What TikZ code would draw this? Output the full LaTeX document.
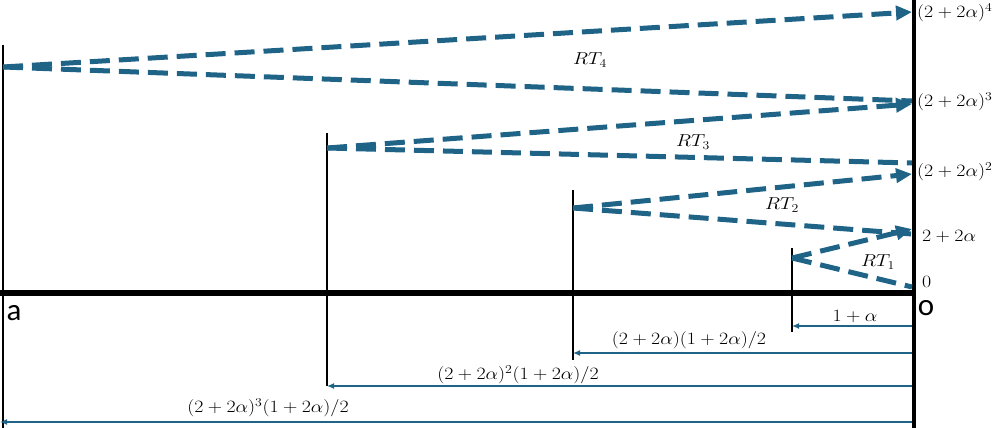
\documentclass[tikz,border=0pt]{standalone}
\usepackage{fontspec}
\usepackage{graphicx}
\usetikzlibrary{arrows.meta}
\newfontfamily\lblfont{Carlito}
\definecolor{rtblue}{RGB}{31,100,135}
\newcommand{\wideml}[1]{\scalebox{1.15}[1]{#1}}
\begin{document}
\begin{tikzpicture}[x=1pt,y=-1pt,
  axisline/.style={line width=6pt},
  rightline/.style={line width=4pt},
  tick/.style={line width=2.5pt},
  rtdash/.style={rtblue,line width=5pt,dash pattern=on 20pt off 9pt},
  rtarrow/.style={rtdash,-{Triangle[length=16pt,width=14pt]}},
  dimarrow/.style={rtblue,line width=1.3pt,-{Latex[length=7pt,width=6pt]}},
  mlbl/.style={inner sep=1pt,font=\fontsize{17}{19}\selectfont},
  side/.style={inner sep=0pt,font=\lblfont\fontsize{31}{33}\selectfont}]
\useasboundingbox (0,0) rectangle (996,428);
% coordinates
\coordinate (Otop) at (914,0);
\coordinate (Obot) at (914,428);
\coordinate (Aend) at (0,293);
\coordinate (Oend) at (914,293);
\coordinate (s4) at (3,67);   \coordinate (b4) at (3,428);
\coordinate (s3) at (327,148); \coordinate (b3) at (327,386);
\coordinate (s2) at (573,208); \coordinate (b2) at (573,360);
\coordinate (s1) at (792,258); \coordinate (b1) at (792,332);
\coordinate (t4) at (3,45);
\coordinate (t3) at (327,133);
\coordinate (t2) at (573,190);
\coordinate (t1) at (792,248);
\coordinate (e4u) at (912,12);  \coordinate (e4d) at (912,101);
\coordinate (e3u) at (912,104); \coordinate (e3d) at (912,163);
\coordinate (e2u) at (912,174); \coordinate (e2d) at (912,234);
\coordinate (e1u) at (912,229); \coordinate (e1d) at (912,287);
\coordinate (d1) at (912,326); \coordinate (f1) at (792,326);
\coordinate (d2) at (912,353); \coordinate (f2) at (573,353);
\coordinate (d3) at (912,386); \coordinate (f3) at (327,386);
\coordinate (d4) at (912,422); \coordinate (f4) at (0,422);
% main lines
\draw[rightline] (Otop) -- (Obot);
\draw[axisline] (Aend) -- (Oend);
\draw[tick] (t4) -- (b4);
\draw[tick] (t3) -- (b3);
\draw[tick] (t2) -- (b2);
\draw[tick] (t1) -- (b1);
% round trips
\draw[rtarrow] (s4) -- (e4u);
\draw[rtdash] (s4) -- (e4d);
\draw[rtarrow] (s3) -- (e3u);
\draw[rtdash] (s3) -- (e3d);
\draw[rtarrow] (s2) -- (e2u);
\draw[rtdash] (s2) -- (e2d);
\draw[rtarrow] (s1) -- (e1u);
\draw[rtdash] (s1) -- (e1d);
% dimension arrows
\draw[dimarrow] (d1) -- (f1);
\draw[dimarrow] (d2) -- (f2);
\draw[dimarrow] (d3) -- (f3);
\draw[dimarrow] (d4) -- (f4);
% labels
\node[mlbl,anchor=west] (l4) at (916,13) {\wideml{$(2+2\alpha)^4$}};
\node[mlbl,anchor=west] (l3) at (916,102) {\wideml{$(2+2\alpha)^3$}};
\node[mlbl,anchor=west] (l2) at (916,172) {\wideml{$(2+2\alpha)^2$}};
\node[mlbl,anchor=west] (l1) at (921,236) {\wideml{$2+2\alpha$}};
\node[mlbl,anchor=west] (l0) at (921,282) {\wideml{$0$}};
\node[mlbl] (rt4) at (590,60) {\wideml{$RT_4$}};
\node[mlbl] (rt3) at (693,142) {\wideml{$RT_3$}};
\node[mlbl] (rt2) at (782,205) {\wideml{$RT_2$}};
\node[mlbl] (rt1) at (878,262) {\wideml{$RT_1$}};
\node[mlbl] (m1) at (855,316) {\wideml{$1+\alpha$}};
\node[mlbl] (m2) at (689,340) {\wideml{$(2+2\alpha)(1+2\alpha)/2$}};
\node[mlbl] (m3) at (518,375) {\wideml{$(2+2\alpha)^2(1+2\alpha)/2$}};
\node[mlbl] (m4) at (268,408) {\wideml{$(2+2\alpha)^3(1+2\alpha)/2$}};
\node[side,anchor=base] (la) at (14,320) {a};
\node[side,anchor=base] (lo) at (926,315) {o};
\end{tikzpicture}
\end{document}
